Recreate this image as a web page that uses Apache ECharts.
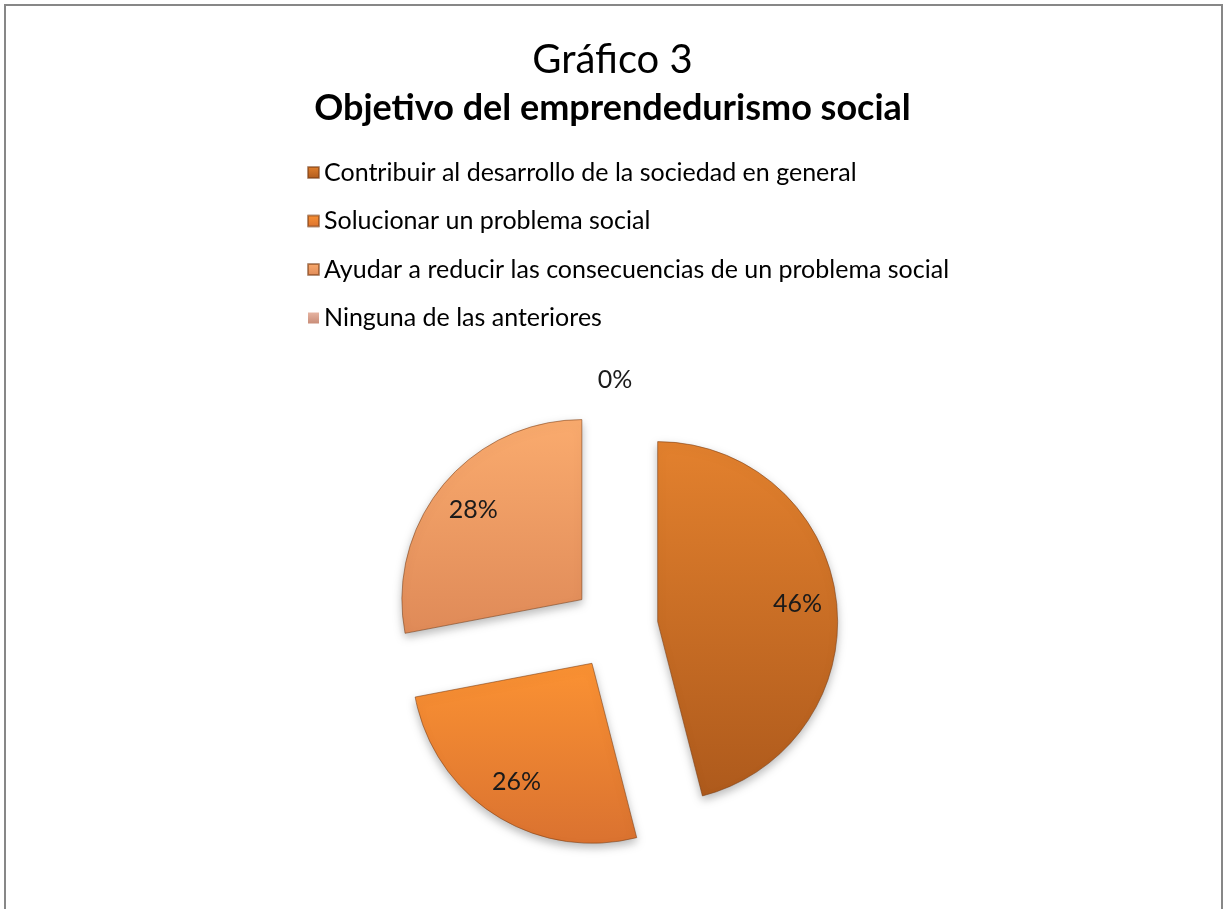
<!DOCTYPE html>
<html>
<head>
<meta charset="utf-8">
<title>Gráfico 3</title>
<script src="https://cdn.jsdelivr.net/npm/echarts@6/dist/echarts.min.js"></script>
<style>
  html, body { margin: 0; padding: 0; background: #fff; overflow: hidden; }
  #frame { position: absolute; left: 4px; top: 4px; width: 1215px; height: 960px; border: 2px solid #878787; }
  #chart { position: absolute; left: 0; top: 0; width: 1225px; height: 909px; }
</style>
</head>
<body>
<div id="frame"></div>
<div id="chart"></div>
<script>
// datos del gráfico
const categories = [
  'Contribuir al desarrollo de la sociedad en general',
  'Solucionar un problema social',
  'Ayudar a reducir las consecuencias de un problema social',
  'Ninguna de las anteriores'
]
const shares = [46, 26, 28, 0]

// colores (arriba / abajo del degradado)
const topColors = ['#E3812E', '#FB9233', '#FAAB6E', '#E6B4A2']
const bottomColors = ['#AE5A1C', '#DA7230', '#DF8A58', '#C98D78']

const font = 'Lato, "Open Sans", sans-serif'
const center = [615, 627]
const radius = 180
const explode = 43

const grad = (i) => new echarts.graphic.LinearGradient(0, 0, 0, 1, [
  { offset: 0, color: topColors[i] },
  { offset: 1, color: bottomColors[i] }
])

const sliceData = categories.map((name, i) => ({
  name: name,
  value: shares[i],
  selected: true,
  itemStyle: shares[i] > 0
    ? { color: grad(i) }
    : { color: grad(i), borderWidth: 0, borderColor: 'rgba(0,0,0,0)', shadowBlur: 0, shadowOffsetY: 0, shadowColor: 'rgba(0,0,0,0)' }
}))

const labelData = categories.map((name, i) => ({
  name: name,
  value: shares[i],
  selected: true,
  label: { show: shares[i] > 0 }
}))

const zeroData = categories.map((name, i) => ({
  name: name,
  value: shares[i],
  label: { show: shares[i] === 0 }
}))

const baseLabel = {
  position: 'inside',
  formatter: '{d}%',
  fontFamily: font,
  fontSize: 25,
  color: '#1a1a1a'
}

let myChart = echarts.init(document.getElementById('chart'))

let option = {
  animation: false,
  backgroundColor: 'transparent',
  title: {
    text: 'Gráfico 3',
    subtext: 'Objetivo del emprendedurismo social',
    left: 'center',
    top: 36,
    itemGap: 4,
    padding: 0,
    textStyle: { fontFamily: font, fontSize: 40, fontWeight: 'normal', color: '#000', lineHeight: 48 },
    subtextStyle: { fontFamily: font, fontSize: 36, fontWeight: 'bold', color: '#000', lineHeight: 40 }
  },
  legend: {
    orient: 'vertical',
    left: 307,
    top: 160,
    padding: 0,
    itemGap: 23.5,
    itemWidth: 11,
    itemHeight: 11,
    icon: 'rect',
    selectedMode: false,
    data: categories,
    textStyle: { fontFamily: font, fontSize: 25, color: '#000', lineHeight: 24 }
  },
  series: [
    {
      name: 'porcentaje',
      type: 'pie',
      center: center,
      radius: [0, radius],
      startAngle: 90,
      clockwise: true,
      selectedMode: 'multiple',
      selectedOffset: explode,
      label: { show: false },
      labelLine: { show: false },
      emphasis: { disabled: true },
      itemStyle: {
        borderColor: 'rgba(120, 60, 20, 0.55)',
        borderWidth: 1,
        shadowBlur: 10,
        shadowOffsetY: 4,
        shadowColor: 'rgba(0, 0, 0, 0.28)'
      },
      data: sliceData
    },
    {
      // etiquetas dentro de los sectores
      name: 'etiquetas',
      type: 'pie',
      center: center,
      radius: [96, radius],
      startAngle: 90,
      silent: true,
      selectedMode: 'multiple',
      selectedOffset: explode,
      itemStyle: { color: 'rgba(0,0,0,0)' },
      label: baseLabel,
      labelLine: { show: false },
      emphasis: { disabled: true },
      data: labelData
    },
    {
      // etiqueta del 0%
      name: 'cero',
      type: 'pie',
      center: center,
      radius: [220, 268],
      startAngle: 90,
      silent: true,
      itemStyle: { color: 'rgba(0,0,0,0)' },
      label: baseLabel,
      labelLine: { show: false },
      emphasis: { disabled: true },
      data: zeroData
    }
  ]
}

myChart.setOption(option)
</script>
</body>
</html>
